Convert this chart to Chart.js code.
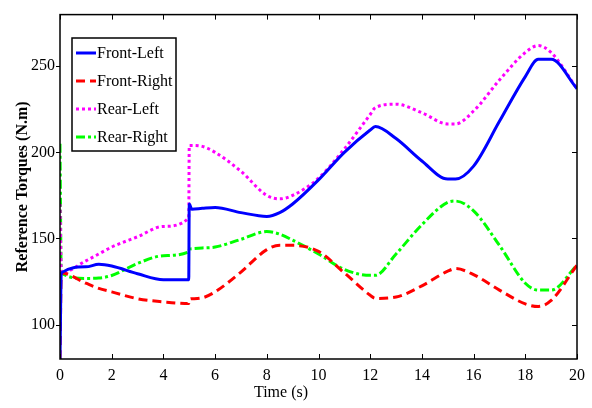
<!DOCTYPE html>
<html lang="en">
<head>
    <meta charset="UTF-8">
    <title>Reference Torques</title>
    <script src="https://cdn.jsdelivr.net/npm/chart.js@4"></script>
    <style>
        body { margin: 0; background: #fff; }
    </style>
</head>
<body>
    <canvas id="torqueChart" width="592" height="408"></canvas>
    <script>
        // sample times (s), shared by all four wheels
        const timeS = [0, 0.05, 1, 1.5, 2, 3, 4, 4.98, 5, 5.1, 5.5, 6, 7, 8, 8.5, 9, 10, 11, 12, 12.2, 13, 14, 15, 15.3, 16, 17, 18, 18.5, 19, 20];

        const frontLeft  = [80, 130, 133.5, 135, 134, 129.5, 126, 126, 170, 167, 167.5, 168, 165, 162.8, 165, 170, 184, 200, 213, 215, 208, 195, 184.5, 184.5, 192, 218, 244, 254, 254, 237];
        const frontRight = [80, 130, 124, 121, 119, 115, 113.2, 112.2, 114.5, 115, 115.5, 119, 130.5, 143.5, 146, 146, 142.5, 130, 117, 115.2, 116, 122.5, 131, 132.5, 129, 120, 112, 110.5, 114, 134.5];
        const rearLeft   = [170, 130, 137, 141, 145, 151, 157, 162, 204, 204, 203.5, 200, 189, 175, 173, 175, 185, 202, 222, 226, 228, 223, 216.5, 216.5, 224, 242, 258, 262, 258, 237];
        const rearRight  = [205, 130, 126.8, 127, 128.5, 135.5, 140, 142.3, 143.5, 144, 144.5, 145, 149.5, 154, 152.5, 149, 141, 132, 128.6, 128.6, 141, 158, 171, 171.7, 166, 146, 124, 120, 120, 134.5];

        const xTicks = [0, 2, 4, 6, 8, 10, 12, 14, 16, 18, 20];
        const yTicks = [100, 150, 200, 250];

        const serif = '"Liberation Serif", "Times New Roman", serif';

        function points(values) {
            return timeS.map((t, i) => ({ x: t, y: values[i] }));
        }

        function series(label, values, color, dash) {
            return {
                label: label,
                data: points(values),
                borderColor: color,
                backgroundColor: color,
                borderWidth: 3,
                borderDash: dash,
                pointRadius: 0,
                fill: false,
                cubicInterpolationMode: 'monotone'
            };
        }

        // box, inward ticks, x title and legend, drawn like a MATLAB figure
        const framePlugin = {
            id: 'frame',
            afterDraw(chart) {
                const { ctx, chartArea: a, scales: { x, y } } = chart;
                ctx.save();
                ctx.strokeStyle = '#000';
                ctx.lineWidth = 1.5;
                ctx.setLineDash([]);
                ctx.strokeRect(a.left, a.top, a.right - a.left, a.bottom - a.top);

                ctx.lineWidth = 1;
                ctx.beginPath();
                xTicks.forEach(v => {
                    const px = Math.round(x.getPixelForValue(v)) + 0.5;
                    ctx.moveTo(px, a.bottom); ctx.lineTo(px, a.bottom - 5);
                    ctx.moveTo(px, a.top); ctx.lineTo(px, a.top + 5);
                });
                yTicks.forEach(v => {
                    const py = Math.round(y.getPixelForValue(v)) + 0.5;
                    ctx.moveTo(a.left, py); ctx.lineTo(a.left - 4, py);
                    ctx.moveTo(a.right, py); ctx.lineTo(a.right - 5, py);
                });
                ctx.stroke();

                // x axis title
                ctx.fillStyle = '#000';
                ctx.font = '16px ' + serif;
                ctx.textAlign = 'center';
                ctx.textBaseline = 'alphabetic';
                ctx.fillText('Time (s)', 281, 397);

                // legend box
                const lx = 72, ly = 38, lw = 104, lh = 113;
                ctx.fillStyle = '#fff';
                ctx.fillRect(lx, ly, lw, lh);
                ctx.lineWidth = 1.5;
                ctx.strokeRect(lx, ly, lw, lh);
                ctx.textAlign = 'left';
                ctx.textBaseline = 'middle';
                chart.data.datasets.forEach((ds, i) => {
                    const cy = ly + 15 + i * 28;
                    ctx.strokeStyle = ds.borderColor;
                    ctx.lineWidth = 3;
                    ctx.setLineDash(ds.borderDash || []);
                    ctx.beginPath();
                    ctx.moveTo(lx + 4, cy);
                    ctx.lineTo(lx + 24, cy);
                    ctx.stroke();
                    ctx.setLineDash([]);
                    ctx.fillStyle = '#000';
                    ctx.fillText(ds.label, lx + 25, cy + 1);
                });
                ctx.restore();
            }
        };

        const ctx = document.getElementById('torqueChart').getContext('2d');
        new Chart(ctx, {
            type: 'line',
            data: {
                datasets: [
                    series('Front-Left', frontLeft, '#0000ff', []),
                    series('Front-Right', frontRight, '#ff0000', [9, 5]),
                    series('Rear-Left', rearLeft, '#ff00ff', [3, 3]),
                    series('Rear-Right', rearRight, '#00ff00', [9, 3, 3, 3])
                ]
            },
            options: {
                responsive: false,
                animation: false,
                layout: { padding: { top: 10, right: 15, left: 0, bottom: 0 } },
                plugins: {
                    legend: { display: false },
                    tooltip: { enabled: false }
                },
                scales: {
                    x: {
                        type: 'linear',
                        min: 0,
                        max: 20,
                        grid: { display: false, drawTicks: false },
                        border: { display: false },
                        afterBuildTicks: s => { s.ticks = xTicks.map(v => ({ value: v })); },
                        afterFit: s => { s.height = 49; },
                        ticks: {
                            color: '#000',
                            padding: 7,
                            maxRotation: 0,
                            font: { family: serif, size: 16 }
                        }
                    },
                    y: {
                        min: 80,
                        max: 280,
                        grid: { display: false, drawTicks: false },
                        border: { display: false },
                        afterBuildTicks: s => { s.ticks = yTicks.map(v => ({ value: v })); },
                        afterFit: s => { s.width = 60; },
                        ticks: {
                            color: '#000',
                            padding: 5,
                            font: { family: serif, size: 16 }
                        },
                        title: {
                            display: true,
                            text: 'Reference Torques (N.m)',
                            color: '#000',
                            padding: { top: 13, bottom: 0 },
                            font: { family: serif, size: 16, weight: 'bold' }
                        }
                    }
                }
            },
            plugins: [framePlugin]
        });
    </script>
</body>
</html>
